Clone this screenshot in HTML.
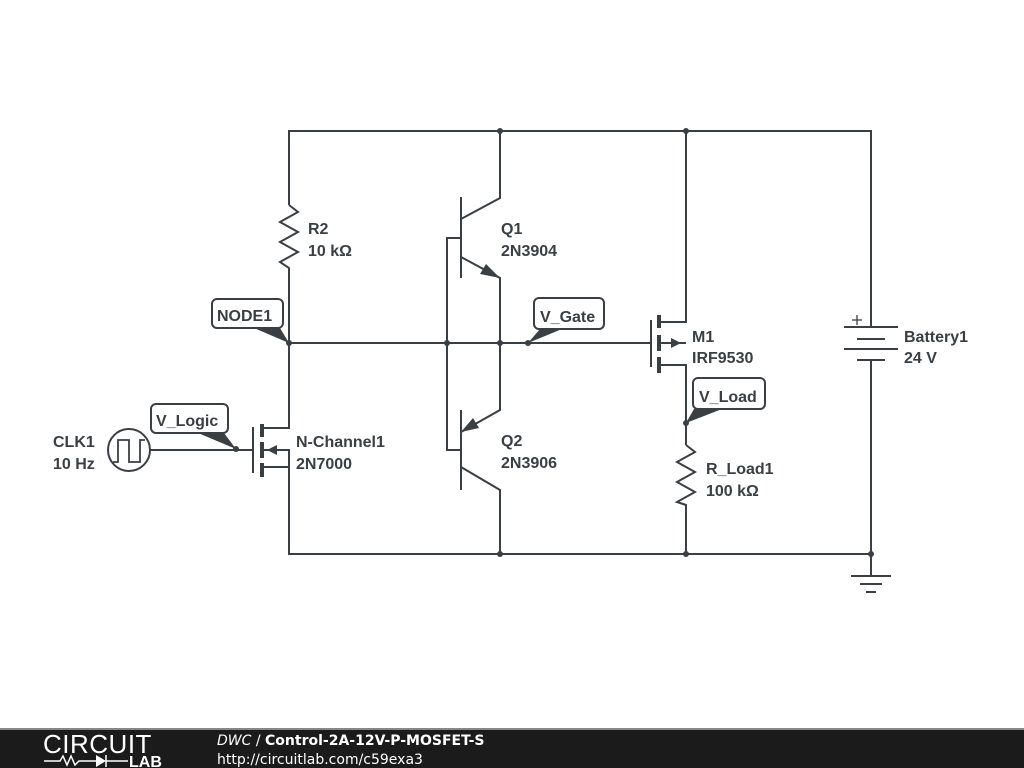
<!DOCTYPE html>
<html><head><style>
html,body{margin:0;padding:0;background:#fff;width:1024px;height:768px;overflow:hidden}
svg text{font-family:"Liberation Sans",sans-serif;font-weight:bold;font-size:16px;fill:#3a3f44}
</style></head><body>
<svg width="1024" height="768" viewBox="0 0 1024 768" xmlns="http://www.w3.org/2000/svg">
<g stroke="#3a3f44" stroke-width="2" fill="none">
<polyline points="289,205 289,131 871,131 871,327"/>
<polyline points="289,467 289,554 871,554"/>
<polyline points="289,205 298,212 280,222 298,232 280,242 298,252 280,262 289,268 289,343"/>
<line x1="289" y1="343" x2="651" y2="343"/>
<line x1="461" y1="197" x2="461" y2="278"/>
<polyline points="500,131 500,198 461,219"/>
<polyline points="461,257 500,278 500,343"/>
<polyline points="447,343 447,238 461,238"/>
<line x1="461" y1="410" x2="461" y2="490"/>
<polyline points="500,343 500,410 461,432"/>
<polyline points="461,467 500,490 500,554"/>
<polyline points="447,343 447,450 461,450"/>
<line x1="253" y1="427" x2="253" y2="473"/>
<polyline points="262,428 289,428 289,343"/>
<polyline points="262,450 289,450 289,554"/>
<line x1="262" y1="467" x2="289" y2="467"/>
<line x1="150" y1="450" x2="253" y2="450"/>
<circle cx="129" cy="450" r="21"/>
<polyline points="113,462 118,462 118,440 129,440 129,462 140,462 140,440 145,440" stroke-width="1.8"/>
<line x1="651" y1="320" x2="651" y2="367"/>
<polyline points="659,322 686,322 686,131"/>
<line x1="659" y1="343" x2="686" y2="343"/>
<polyline points="659,365 686,365 686,445"/>
<polyline points="686,445 695,452 677,462 695,472 677,482 695,492 677,502 686,505 686,554"/>
<line x1="844" y1="327" x2="898" y2="327"/>
<line x1="857" y1="339" x2="885" y2="339"/>
<line x1="844" y1="349" x2="898" y2="349"/>
<line x1="857" y1="360" x2="885" y2="360"/>
<line x1="871" y1="360" x2="871" y2="576"/>
<line x1="851" y1="576" x2="891" y2="576"/>
<line x1="860" y1="584" x2="882" y2="584"/>
<line x1="866" y1="592" x2="876" y2="592"/>
<line x1="852" y1="320" x2="862" y2="320" stroke-width="1.3"/>
<line x1="857" y1="315" x2="857" y2="325" stroke-width="1.3"/>
</g>
<g stroke="#3a3f44" stroke-width="4">
<line x1="262" y1="424" x2="262" y2="437"/>
<line x1="262" y1="442" x2="262" y2="458"/>
<line x1="262" y1="463" x2="262" y2="477"/>
<line x1="659" y1="315" x2="659" y2="328"/>
<line x1="659" y1="335" x2="659" y2="351"/>
<line x1="659" y1="357" x2="659" y2="373"/>
</g>
<g fill="#3a3f44">
<polygon points="500,278 480,274 486,264"/>
<polygon points="461,432 473,418 479,428"/>
<polygon points="267,450 277,445 277,455"/>
<polygon points="681,343 671,338 671,348"/>
<circle cx="500" cy="131" r="3"/><circle cx="686" cy="131" r="3"/>
<circle cx="500" cy="554" r="3"/><circle cx="686" cy="554" r="3"/><circle cx="871" cy="554" r="3"/>
<circle cx="289" cy="343" r="3"/><circle cx="447" cy="343" r="3"/><circle cx="500" cy="343" r="3"/>
<circle cx="528" cy="343" r="3"/><circle cx="236" cy="449" r="3"/><circle cx="686" cy="423" r="3"/>
<polygon points="289,343 254,328 280,328"/>
<polygon points="236,449 198,433 224,433"/>
<polygon points="528,343 540,329 562,329"/>
<polygon points="686,423 694,409 722,409"/>
</g>
<g stroke="#3a3f44" stroke-width="2" fill="#fff">
<rect x="212" y="299" width="71" height="29" rx="5"/>
<rect x="151" y="404" width="77" height="29" rx="5"/>
<rect x="534" y="298" width="70" height="31" rx="5"/>
<rect x="693" y="378" width="72" height="31" rx="5"/>
</g>
<text x="217" y="321">NODE1</text>
<text x="156" y="426">V_Logic</text>
<text x="540" y="322">V_Gate</text>
<text x="699" y="402">V_Load</text>
<text x="308" y="234">R2</text><text x="308" y="256">10 kΩ</text>
<text x="501" y="234">Q1</text><text x="501" y="256">2N3904</text>
<text x="501" y="446">Q2</text><text x="501" y="468">2N3906</text>
<text x="296" y="447">N-Channel1</text><text x="296" y="469">2N7000</text>
<text x="53" y="447">CLK1</text><text x="53" y="469">10 Hz</text>
<text x="692" y="342">M1</text><text x="692" y="363">IRF9530</text>
<text x="706" y="474">R_Load1</text><text x="706" y="496">100 kΩ</text>
<text x="904" y="342">Battery1</text><text x="904" y="363">24 V</text>
<rect x="0" y="729" width="1024" height="39" fill="#1b1b1b"/>
<rect x="0" y="728" width="1024" height="2" fill="#888"/>
<text x="43" y="753" style="font-weight:normal;font-size:26px;fill:#fff;letter-spacing:0.5px">CIRCUIT</text>
<g stroke="#fff" stroke-width="1.5" fill="none">
<polyline points="44,761 60,761 63,756 67,765 71,756 75,765 79,761 96,761"/>
<line x1="106" y1="755" x2="106" y2="767"/><line x1="106" y1="761" x2="128" y2="761"/>
</g>
<polygon points="96,755 96,767 106,761" fill="#fff"/>
<text x="129" y="767" style="font-size:16px;fill:#fff">LAB</text>
<text x="217" y="745" style="font-family:'DejaVu Sans',sans-serif;font-size:14px;fill:#fff"><tspan style="font-style:italic;font-weight:normal">DWC</tspan><tspan style="font-weight:normal"> / </tspan>Control-2A-12V-P-MOSFET-S</text>
<text x="217" y="764" style="font-family:'DejaVu Sans',sans-serif;font-size:14px;fill:#fff;font-weight:normal">http://circuitlab.com/c59exa3</text>
</svg>
</body></html>
